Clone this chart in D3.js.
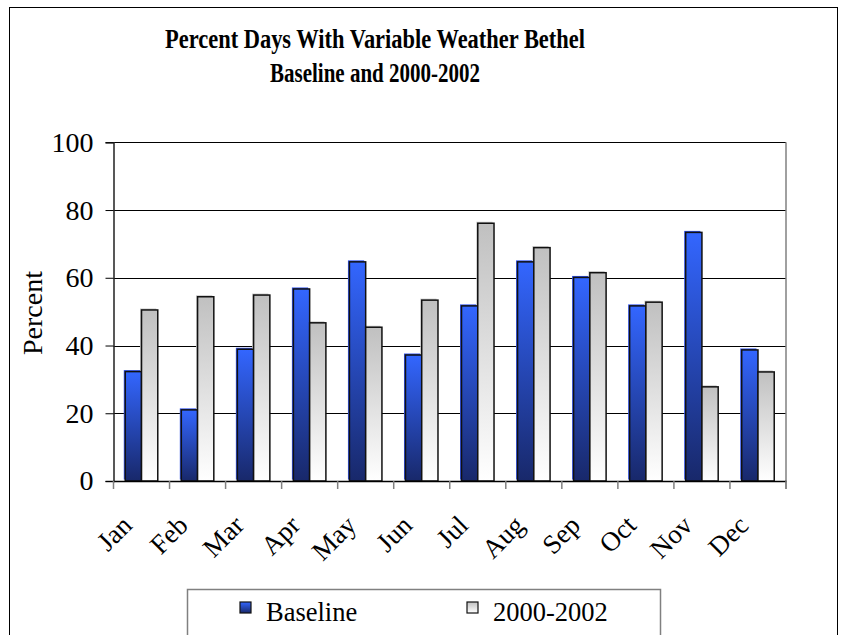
<!DOCTYPE html>
<html>
<head>
<meta charset="utf-8">
<script src="https://cdn.jsdelivr.net/npm/d3@7/dist/d3.min.js"></script>
<style>
  html, body { margin: 0; padding: 0; background: #fff; }
  svg { display: block; }
  svg text { font-family: "Liberation Serif", "Times New Roman", "DejaVu Serif", serif; fill: #000; }
</style>
</head>
<body>
<svg id="chart" width="841" height="635"></svg>
<script>
// Monthly share of days with variable weather, Bethel
const months = ["Jan", "Feb", "Mar", "Apr", "May", "Jun", "Jul", "Aug", "Sep", "Oct", "Nov", "Dec"];
const seriesNames = ["Baseline", "2000-2002"];
const baseline = [32.3, 21.0, 38.9, 56.7, 64.7, 37.2, 51.7, 64.7, 60.1, 51.7, 73.4, 38.7];
const recent   = [50.5, 54.4, 54.9, 46.7, 45.4, 53.4, 76.1, 68.9, 61.5, 52.8, 27.8, 32.2];
const yTicks = [0, 20, 40, 60, 80, 100];
const titleLines = ["Percent Days With Variable Weather Bethel", "Baseline and 2000-2002"];
const yTitle = "Percent";

const SERIF = "'Liberation Serif', 'Times New Roman', 'DejaVu Serif', serif";
const svg = d3.select("#chart");

// gradients for the two series
const defs = svg.append("defs");
const gBlue = defs.append("linearGradient").attr("id", "gradBlue")
  .attr("x1", 0).attr("y1", 0).attr("x2", 0).attr("y2", 1);
gBlue.append("stop").attr("offset", "0%").attr("stop-color", "#3366ff");
gBlue.append("stop").attr("offset", "100%").attr("stop-color", "#18286a");
const gGrey = defs.append("linearGradient").attr("id", "gradGrey")
  .attr("x1", 0).attr("y1", 0).attr("x2", 0).attr("y2", 1);
gGrey.append("stop").attr("offset", "0%").attr("stop-color", "#c0c0c0");
gGrey.append("stop").attr("offset", "100%").attr("stop-color", "#ffffff");
const fills = ["url(#gradBlue)", "url(#gradGrey)"];

// outer frame
svg.append("rect").attr("x", 9.5).attr("y", 7.5).attr("width", 828).attr("height", 640)
  .attr("fill", "none").attr("stroke", "#000").attr("stroke-width", 1);

// title: tall condensed bold serif, two lines
const titleWidths = [420, 210];
svg.append("g").selectAll("text").data(titleLines).join("text")
  .attr("x", 375).attr("y", (d, i) => 48 + i * 34)
  .attr("text-anchor", "middle")
  .attr("textLength", (d, i) => titleWidths[i])
  .attr("lengthAdjust", "spacingAndGlyphs")
  .style("font-family", SERIF)
  .style("font-weight", "bold").style("font-size", "27px")
  .text(d => d);

const plot = { left: 113.5, right: 786, top: 142.3, bottom: 481 };

const x0 = d3.scaleBand().domain(months).range([plot.left, plot.right]).padding(0);
const x1 = d3.scaleBand().domain(seriesNames)
  .range([x0.bandwidth() * 0.21, x0.bandwidth() * 0.79]).padding(0);
const y = d3.scaleLinear().domain([0, 100]).range([plot.bottom, plot.top]);

// gridlines
svg.append("g").selectAll("line").data(yTicks.filter(t => t > 0)).join("line")
  .attr("x1", plot.left).attr("x2", plot.right)
  .attr("y1", d => Math.round(y(d)) + 0.5).attr("y2", d => Math.round(y(d)) + 0.5)
  .attr("stroke", "#000").attr("stroke-width", 1);

// right edge of plot area
svg.append("line").attr("x1", plot.right).attr("x2", plot.right)
  .attr("y1", plot.top).attr("y2", plot.bottom + 8)
  .attr("stroke", "#808080").attr("stroke-width", 1.5);

// bars
const rows = months.map((m, i) => ({ month: m, values: [baseline[i], recent[i]] }));
const groups = svg.append("g").selectAll("g").data(rows).join("g")
  .attr("transform", d => `translate(${x0(d.month)},0)`);
// faint drop shadow behind each bar
groups.selectAll("rect.shadow").data(d => d.values.map((v, k) => ({ key: seriesNames[k], v, k })))
  .join("rect").attr("class", "shadow")
  .attr("x", d => x1(d.key) - 1.5)
  .attr("y", d => y(d.v) - 1.5)
  .attr("width", x1.bandwidth())
  .attr("height", d => y(0) - y(d.v))
  .attr("fill", d => d.k === 0 ? "#3355ee" : "#c8c8c8");
groups.selectAll("rect.bar").data(d => d.values.map((v, k) => ({ key: seriesNames[k], v, k })))
  .join("rect").attr("class", "bar")
  .attr("x", d => x1(d.key))
  .attr("y", d => y(d.v))
  .attr("width", x1.bandwidth())
  .attr("height", d => y(0) - y(d.v))
  .attr("fill", d => fills[d.k])
  .attr("stroke", "#111").attr("stroke-width", 1.5);

// y axis
const yAxis = d3.axisLeft(y).tickValues(yTicks).tickSize(8).tickPadding(12).tickFormat(d3.format("d"));
const gy = svg.append("g").attr("transform", `translate(${plot.left},0)`).call(yAxis);
gy.attr("font-family", null).attr("font-size", null);
gy.select(".domain").attr("stroke", "#222").attr("stroke-width", 1.5);
gy.selectAll(".tick line").attr("stroke", "#000");
gy.selectAll(".tick text").style("font-size", "28px")
  .style("font-family", SERIF).attr("fill", "#000");

// x axis: ticks at category boundaries
const xAxis = d3.axisBottom(x0).tickSize(0).tickFormat("");
const gx = svg.append("g").attr("transform", `translate(0,${plot.bottom})`).call(xAxis);
gx.select(".domain").attr("stroke", "#000").attr("stroke-width", 1.5);
const boundaries = months.map(m => x0(m)).concat([plot.right]);
gx.selectAll(".bnd").data(boundaries).join("line").attr("class", "bnd")
  .attr("x1", d => d).attr("x2", d => d).attr("y1", 0).attr("y2", 8)
  .attr("stroke", "#808080").attr("stroke-width", 1.5);

// rotated month labels
svg.append("g").selectAll("text").data(months).join("text")
  .attr("transform", d => `translate(${x0(d) + x0.bandwidth() / 2 - 8},527) rotate(-45)`)
  .attr("text-anchor", "end")
  .style("font-family", SERIF)
  .style("font-size", "27px")
  .text(d => d);

// y axis title
svg.append("text")
  .attr("transform", "translate(42,313) rotate(-90)")
  .attr("text-anchor", "middle")
  .style("font-family", SERIF)
  .style("font-size", "28px")
  .text(yTitle);

// legend
const lg = svg.append("g");
lg.append("rect").attr("x", 187.5).attr("y", 589.5).attr("width", 473).attr("height", 60)
  .attr("fill", "#fff").attr("stroke", "#808080").attr("stroke-width", 1.5);
const legendX = [240, 467];
const items = lg.selectAll("g.item").data(seriesNames).join("g").attr("class", "item")
  .attr("transform", (d, i) => `translate(${legendX[i]},602)`);
items.append("rect").attr("width", 11).attr("height", 11)
  .attr("fill", (d, i) => fills[i]).attr("stroke", "#111").attr("stroke-width", 1.2);
items.append("text").attr("x", 26).attr("y", 19)
  .style("font-family", SERIF)
  .style("font-size", "26.5px").text(d => d);
</script>
</body>
</html>
